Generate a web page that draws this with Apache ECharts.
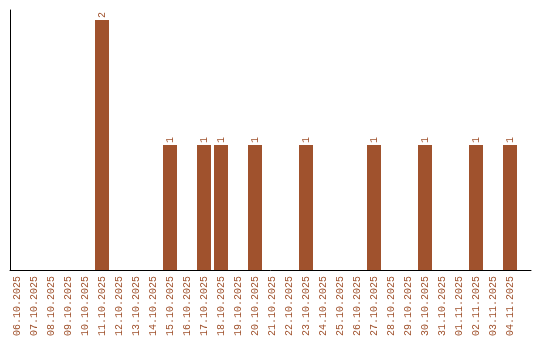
<!DOCTYPE html>
<html><head><meta charset="utf-8">
<script src="https://cdn.jsdelivr.net/npm/echarts@6/dist/echarts.min.js"></script>
<style>html,body{margin:0;padding:0;background:#fff}#c{width:540px;height:340px}</style>
</head><body><div id="c"></div>
<script>
const categories = ["06.10.2025","07.10.2025","08.10.2025","09.10.2025","10.10.2025","11.10.2025","12.10.2025","13.10.2025","14.10.2025","15.10.2025","16.10.2025","17.10.2025","18.10.2025","19.10.2025","20.10.2025","21.10.2025","22.10.2025","23.10.2025","24.10.2025","25.10.2025","26.10.2025","27.10.2025","28.10.2025","29.10.2025","30.10.2025","31.10.2025","01.11.2025","02.11.2025","03.11.2025","04.11.2025"];
const values = [0,0,0,0,0,2,0,0,0,1,0,1,1,0,1,0,0,1,0,0,0,1,0,0,1,0,0,1,0,1];
const color = '#A0522D';
const chart = echarts.init(document.getElementById('c'));
chart.setOption({
  animation: false,
  grid: [
    {left: 8.5, width: 510, top: 10, bottom: 70},
    {left: 10, right: 9, top: 10, bottom: 70}
  ],
  xAxis: [
    {type: 'category', gridIndex: 0, data: categories,
     axisLine: {show: false}, axisTick: {show: false},
     axisLabel: {rotate: 90, interval: 0, color: color, fontFamily: 'Liberation Mono', fontSize: 10, margin: 6}},
    {type: 'value', gridIndex: 1, min: 0, max: 1,
     axisLine: {show: true, lineStyle: {color: '#000', width: 1}},
     axisTick: {show: false}, axisLabel: {show: false}, splitLine: {show: false}}
  ],
  yAxis: [
    {type: 'value', gridIndex: 0, min: 0, max: 2.08,
     axisLine: {show: false}, axisTick: {show: false}, axisLabel: {show: false}, splitLine: {show: false}},
    {type: 'value', gridIndex: 1, min: 0, max: 1,
     axisLine: {show: true, lineStyle: {color: '#000', width: 1}},
     axisTick: {show: false}, axisLabel: {show: false}, splitLine: {show: false}}
  ],
  series: [{
    type: 'bar', xAxisIndex: 0, yAxisIndex: 0,
    data: values.map(v => ({value: v, label: {show: v > 0}})),
    barWidth: 14,
    itemStyle: {color: color},
    label: {position: 'top', rotate: 90, align: 'left', verticalAlign: 'middle', distance: 2,
      color: color, fontFamily: 'Liberation Mono', fontSize: 10}
  }]
});
</script></body></html>
